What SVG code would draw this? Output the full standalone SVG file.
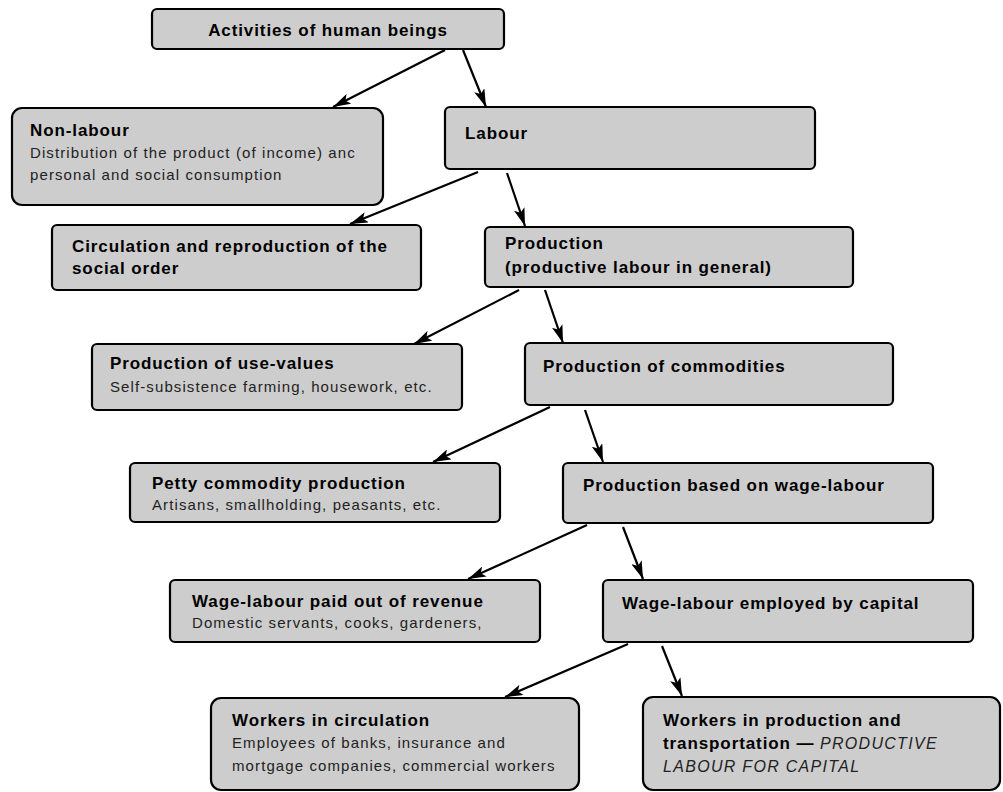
<svg xmlns="http://www.w3.org/2000/svg" width="1003" height="792" viewBox="0 0 1003 792">
<style>
.box{fill:#cdcdcd;stroke:#000;stroke-width:2.2}
.t{font-family:"Liberation Sans",Arial,sans-serif;font-size:17px;font-weight:bold;fill:#000;letter-spacing:0.9px}
.s{font-family:"Liberation Sans",Arial,sans-serif;font-size:15px;fill:#222;letter-spacing:1.1px}
.i{font-family:"Liberation Sans",Arial,sans-serif;font-style:italic;font-weight:normal;font-size:16px;fill:#222;letter-spacing:1.3px}
.c{fill:none;stroke:#000;stroke-width:2.2;marker-end:url(#ah)}
</style>
<defs>
<marker id="ah" viewBox="0 0 18 11" refX="18" refY="5.5" markerWidth="18" markerHeight="11" markerUnits="userSpaceOnUse" orient="auto">
<path d="M0,0 L18,5.5 L0,11 L4,5.5 z" fill="#000"/>
</marker>
</defs>
<rect width="1003" height="792" fill="#fff"/>
<g id="connectors">
<line class="c" x1="445" y1="50" x2="333" y2="107"/>
<line class="c" x1="463" y1="50" x2="486" y2="107"/>
<line class="c" x1="478" y1="172" x2="350" y2="224"/>
<line class="c" x1="507" y1="173" x2="525" y2="226"/>
<line class="c" x1="519" y1="290" x2="414" y2="344"/>
<line class="c" x1="545" y1="290" x2="563" y2="343"/>
<line class="c" x1="550" y1="407" x2="433" y2="462"/>
<line class="c" x1="585" y1="410" x2="603" y2="462"/>
<line class="c" x1="587" y1="525" x2="468" y2="579"/>
<line class="c" x1="623" y1="527" x2="643" y2="579"/>
<line class="c" x1="628" y1="644" x2="505" y2="697"/>
<line class="c" x1="662" y1="646" x2="682" y2="696"/>
</g>
<g id="activities">
<rect class="box" x="152" y="9" width="352" height="40" rx="5"/>
<text class="t" x="328" y="36" text-anchor="middle">Activities of human beings</text>
</g>
<g id="non-labour">
<rect class="box" x="12" y="108" width="371" height="97" rx="10"/>
<text class="t" x="30" y="136">Non-labour</text>
<text class="s" x="30" y="158">Distribution of the product (of income) anc</text>
<text class="s" x="30" y="180">personal and social consumption</text>
</g>
<g id="labour">
<rect class="box" x="445" y="107" width="370" height="62" rx="5"/>
<text class="t" x="465" y="139">Labour</text>
</g>
<g id="circulation">
<rect class="box" x="52" y="225" width="369" height="65" rx="5"/>
<text class="t" x="72" y="252">Circulation and reproduction of the</text>
<text class="t" x="72" y="274">social order</text>
</g>
<g id="production">
<rect class="box" x="485" y="227" width="368" height="60" rx="5"/>
<text class="t" x="505" y="249">Production</text>
<text class="t" x="505" y="273">(productive labour in general)</text>
</g>
<g id="use-values">
<rect class="box" x="92" y="344" width="370" height="66" rx="5"/>
<text class="t" x="110" y="369">Production of use-values</text>
<text class="s" x="110" y="392">Self-subsistence farming, housework, etc.</text>
</g>
<g id="commodities">
<rect class="box" x="525" y="343" width="368" height="62" rx="5"/>
<text class="t" x="543" y="372">Production of commodities</text>
</g>
<g id="petty">
<rect class="box" x="130" y="463" width="370" height="59" rx="5"/>
<text class="t" x="152" y="489">Petty commodity production</text>
<text class="s" x="152" y="510">Artisans, smallholding, peasants, etc.</text>
</g>
<g id="wage-based">
<rect class="box" x="563" y="463" width="370" height="60" rx="5"/>
<text class="t" x="583" y="491">Production based on wage-labour</text>
</g>
<g id="wage-revenue">
<rect class="box" x="170" y="580" width="370" height="62" rx="5"/>
<text class="t" x="192" y="607">Wage-labour paid out of revenue</text>
<text class="s" x="192" y="628">Domestic servants, cooks, gardeners,</text>
</g>
<g id="wage-capital">
<rect class="box" x="603" y="580" width="370" height="62" rx="5"/>
<text class="t" x="622" y="609">Wage-labour employed by capital</text>
</g>
<g id="workers-circulation">
<rect class="box" x="211" y="698" width="368" height="92" rx="10"/>
<text class="t" x="232" y="726">Workers in circulation</text>
<text class="s" x="232" y="748">Employees of banks, insurance and</text>
<text class="s" x="232" y="771">mortgage companies, commercial workers</text>
</g>
<g id="workers-production">
<rect class="box" x="643" y="697" width="357" height="93" rx="10"/>
<text class="t" x="663" y="726">Workers in production and</text>
<text class="t" x="663" y="749">transportation — <tspan class="i">PRODUCTIVE</tspan></text>
<text class="i" x="663" y="772">LABOUR FOR CAPITAL</text>
</g>
</svg>
